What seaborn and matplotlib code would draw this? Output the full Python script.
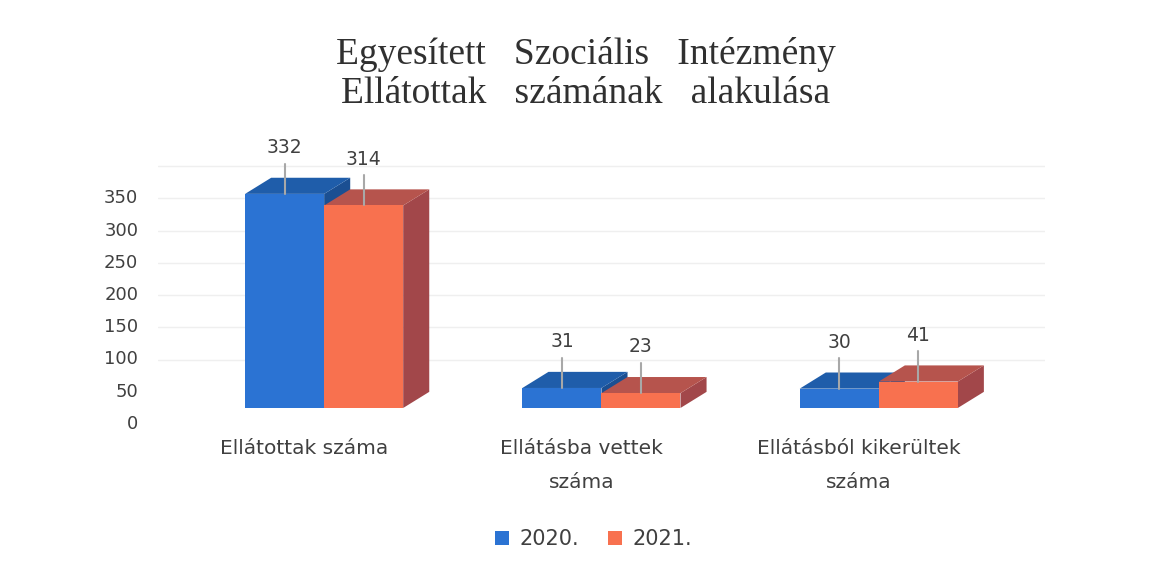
import pandas as pd
import seaborn as sns
import matplotlib.pyplot as plt
from matplotlib.patches import Polygon
from matplotlib.transforms import ScaledTranslation

# === data ===
categories = ["Ellátottak száma", "Ellátásba vettek\nszáma", "Ellátásból kikerültek\nszáma"]
years = ["2020.", "2021."]
values_2020 = [332, 31, 30]
values_2021 = [314, 23, 41]
yticks = [0, 50, 100, 150, 200, 250, 300, 350]

df = pd.DataFrame({
    "category": categories * 2,
    "year": [years[0]] * 3 + [years[1]] * 3,
    "value": values_2020 + values_2021,
})

# front / top / side colours for each year
front = {years[0]: "#2b73d3", years[1]: "#f8714f"}
top = {years[0]: "#1f5daa", years[1]: "#b6544d"}
side = {years[0]: "#1b4f92", years[1]: "#a2474a"}

sns.set_theme(style="white")
plt.rcParams["font.family"] = ["DejaVu Sans"]

fig = plt.figure(figsize=(11.6, 5.69), dpi=100)
ax = fig.add_axes([0.136, 0.283, 0.765, 0.476])

sns.barplot(data=df, x="category", y="value", hue="year", palette=front,
            width=0.57, saturation=1, linewidth=0, ax=ax)

ax.set_xlim(-0.6, 2.6)
ax.set_ylim(0, 420)
ax.set_yticks(yticks)
ax.set_xlabel("")
ax.set_ylabel("")
sns.despine(ax=ax, left=True, bottom=True)
ax.tick_params(axis="both", length=0, colors="#404040")
ax.tick_params(axis="y", pad=14, labelsize=13)
ax.tick_params(axis="x", pad=22, labelsize=14.5)
for y in yticks[1:]:
    ax.axhline(y + 25, color="#efefef", lw=1, zorder=0)

# excel-style 3D offsets of the wall labels
for lab in ax.get_yticklabels():
    lab.set_transform(lab.get_transform() + ScaledTranslation(0, -0.14, fig.dpi_scale_trans))
for lab in ax.get_xticklabels():
    lab.set_transform(lab.get_transform() + ScaledTranslation(-0.2, 0, fig.dpi_scale_trans))
    lab.set_linespacing(2.0)

# depth of the fake 3D boxes, in data units
dx = 0.094
dy = 25

bars = sorted(ax.patches[:6], key=lambda p: p.get_x())
for i, p in enumerate(bars):
    x0, w, h = p.get_x(), p.get_width(), p.get_height()
    yr = years[0] if p.get_facecolor()[2] > 0.5 else years[1]
    z = 2 + i * 3
    ax.add_patch(Polygon([(x0 + w, 0), (x0 + w + dx, dy), (x0 + w + dx, h + dy), (x0 + w, h)],
                         closed=True, fc=side[yr], lw=0, zorder=z))
    ax.add_patch(Polygon([(x0, h), (x0 + dx, h + dy), (x0 + w + dx, h + dy), (x0 + w, h)],
                         closed=True, fc=top[yr], lw=0, zorder=z + 1))
    p.set_zorder(z + 2)
    cx = x0 + w / 2
    ax.plot([cx, cx], [h, h + 47], color="#a8a8a8", lw=1.5, zorder=40)
    ax.text(cx, h + 57, f"{int(h)}", ha="center", va="bottom", fontsize=13.5,
            color="#404040", zorder=41)

sns.move_legend(ax, "lower center", bbox_to_anchor=(0.491, -0.59), ncol=2, frameon=False,
                title=None, fontsize=15, handlelength=0.65, handleheight=0.65,
                columnspacing=1.4, handletextpad=0.5)
for t in ax.get_legend().get_texts():
    t.set_color("#404040")

fig.text(0.505, 0.87, "Egyesített   Szociális   Intézmény\nEllátottak   számának   alakulása",
         ha="center", va="center", fontsize=27, family=["Liberation Serif"],
         color="#303030", linespacing=1.2)

fig.savefig("out.png", dpi=100)
plt.close(fig)
